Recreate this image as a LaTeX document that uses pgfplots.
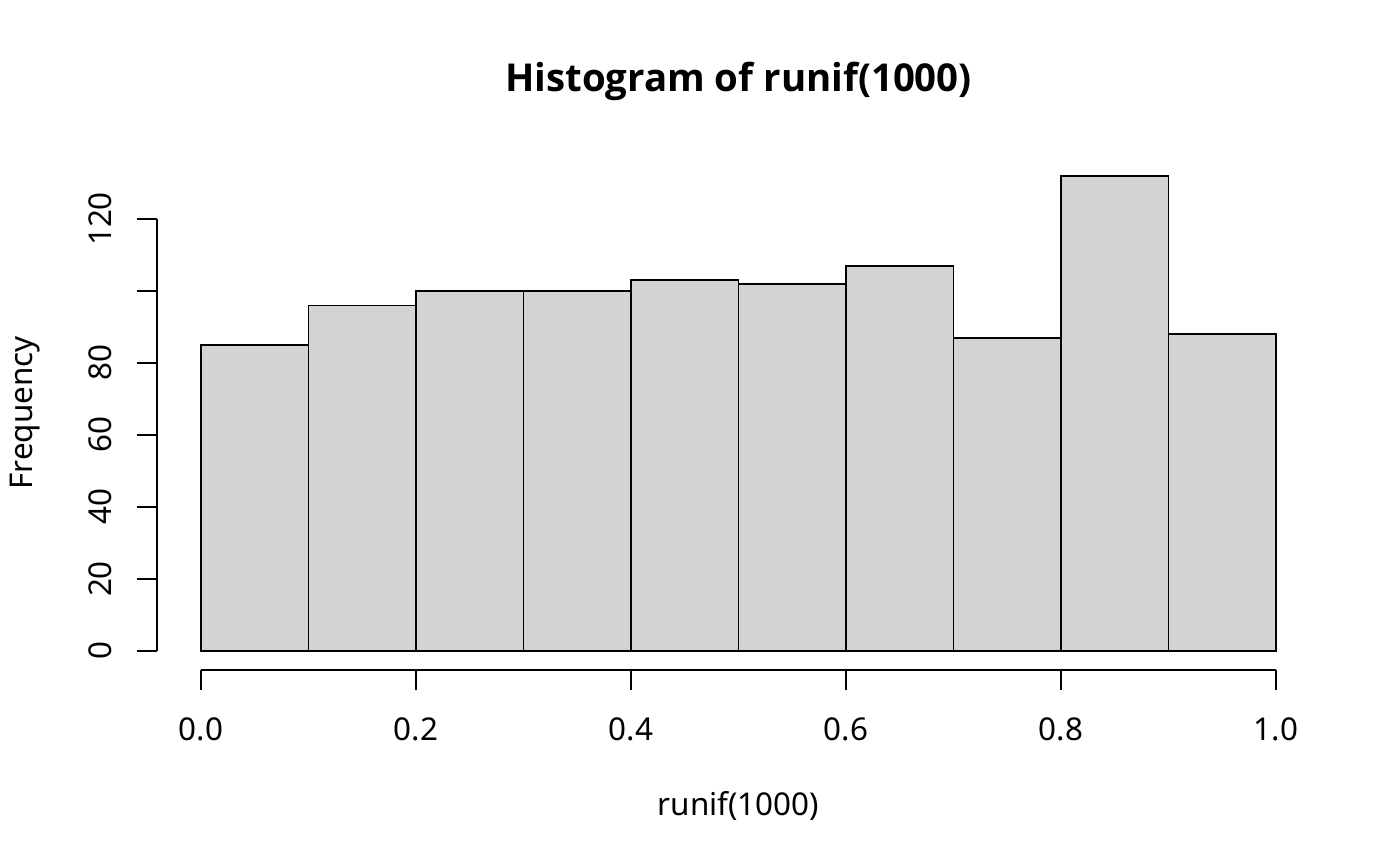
\documentclass[border=0pt]{standalone}
\usepackage{pgfplots}
\pgfplotsset{compat=1.18}
\usepackage{fontspec}
\setmainfont{Noto Sans}
\newfontfamily\titlefont{Open Sans}
\definecolor{rgray}{HTML}{D3D3D3}
\begin{document}
\begin{tikzpicture}
% 1 px of the reference = 0.5pt; origin = lower left of the plot box
\useasboundingbox (-100.5pt,-107.5pt) rectangle (599.5pt,325.5pt);
\begin{axis}[
    scale only axis,
    width=537.5pt, height=216pt,
    xmin=0, xmax=1, ymin=0, ymax=120,
    clip=false,
    axis lines*=left,
    axis line style={-, line width=0.8pt},
    axis x line shift=9.5pt,
    axis y line shift=22pt,
    tick align=outside,
    major tick length=10pt,
    tick style={line width=0.8pt, black},
    xtick={0,0.2,0.4,0.6,0.8,1},
    xticklabels={0.0,0.2,0.4,0.6,0.8,1.0},
    ytick={0,20,40,60,80,100,120},
    yticklabels={0,20,40,60,80,,120},
    ticklabel style={font=\fontsize{15.7}{18}\selectfont},
    xticklabel style={anchor=base},
    yticklabel style={rotate=90, anchor=base},
    xticklabel shift=25pt,
    yticklabel shift=12.5pt,
  ]
  \addplot[ybar interval, fill=rgray, draw=black, line width=0.8pt]
    coordinates {(0,85) (0.1,96) (0.2,100) (0.3,100) (0.4,103) (0.5,102)
                 (0.6,107) (0.7,87) (0.8,132) (0.9,88) (1.0,88)};
\end{axis}
\node[anchor=base, font=\fontsize{19.2}{23}\selectfont\titlefont\bfseries] at (268.75pt,279.5pt) {Histogram of runif(1000)};
\node[anchor=base, font=\fontsize{15.7}{18}\selectfont] at (268.75pt,-82pt) {runif(1000)};
\node[anchor=base, rotate=90, font=\fontsize{15.7}{18}\selectfont] at (-84pt,119pt) {Frequency};
\end{tikzpicture}
\end{document}
